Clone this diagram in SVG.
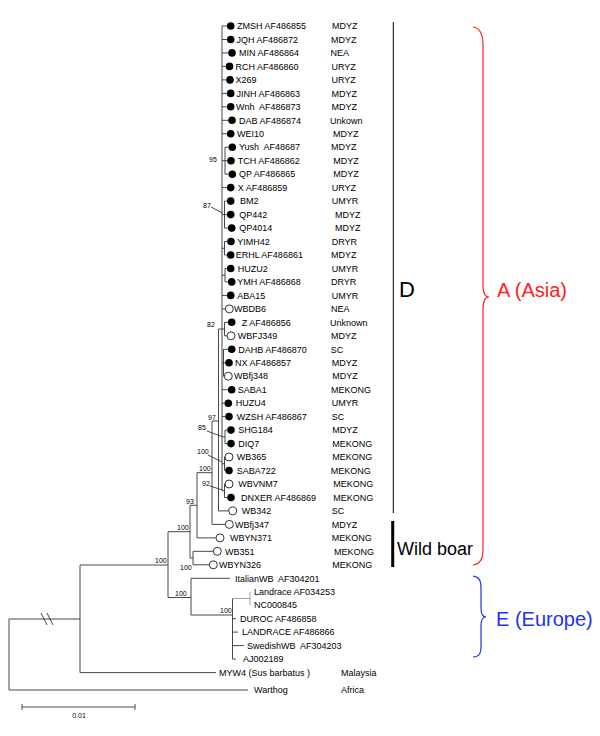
<svg xmlns="http://www.w3.org/2000/svg" width="600" height="736" viewBox="0 0 600 736">
<style>
.t{font-family:"Liberation Sans",Arial,sans-serif;font-size:9px;fill:#000}
.s{font-family:"Liberation Sans",Arial,sans-serif;font-size:7px;fill:#000}
.f{fill:#000}
.o{fill:#fff;stroke:#000;stroke-width:0.8}
.ln{fill:none;stroke:#333;stroke-width:0.9}
.gr{fill:none;stroke:#999;stroke-width:0.9}
</style>
<rect width="600" height="736" fill="#fff"/>
<g id="connectors">
<path class="ln" d="M222,26V490.7
M222,26H226.9M222,39.5H226.9M222,52.9H228.2M222,66.4H225.7M222,79.9H226.2M222,93.4H226.9M222,106.8H226.9M222,120.3H228.2M222,133.8H226.9
M225,147.2V174.2M222,160.7H225M225,147.2H228.5M225,160.7H227.2M225,174.2H228.5
M222,187.6H226.9
M224.5,201.1V228.1M222,214.6H224.5M224.5,201.1H226.9M224.5,214.6H226.9M224.5,228.1H227.9
M224.5,241.5V255M222,248.3H224.5M224.5,241.5H227.2M224.5,255H226.9
M225,268.5V281.9M222,275.2H225M225,268.5H226.9M225,281.9H227.9
M222,295.4H226.9M222,308.9H225.3
M224.5,322.3V335.8M218.5,329H224.5M224.5,322.3H227.9M224.5,335.8H227
M223.5,349.3V376.2M222,362.8H223.5M223.5,349.3H227.9M223.5,362.8H225.2M223.5,376.2H224.3
M222,389.7H227.9M222,403.2H224.5M222,416.6H225.2
M225,430.1V443.6M222,436.9H225M225,430.1H227.2M225,443.6H227.2
M224.5,457V470.5M222,463.8H224.5M224.5,457H225M224.5,470.5H225.2
M224.5,484V497.5M222,490.7H224.5M224.5,484H225M224.5,497.5H227.2
M218.5,329V510.9M218.5,510.9H228.7M212,421H218.5
M212,421V524.4M212,524.4H225.3M197,472.7H212
M197,472.7V537.9M197,537.9H216M190,505.3H197
M193,551.3V564.8M193,551.3H213.3M193,564.8H209.3M190,558H193
M190,505.3V558M168,531.7H190
M168,531.7V597.5M168,597.5H191
M191,578.3V615M191,578.3H230M191,615H232.5
M232.5,598.5V659.1M232.5,618.7H236M232.5,632.1H238M232.5,645.6H244M232.5,659.1H236
M80,565H168M80,565V672.6M80,672.6H216
M9,619H80M9,619V690M9,690H248
M211,207L222.5,213M207,431L222,436.5M208,455L222,462M210,486L222.5,490"/>
<path class="gr" d="M232.5,598.5H250M250,591.7V605.2"/>
<path d="M41,613L47,625M47,613L53,625" stroke="#333" stroke-width="0.9" fill="none"/>
<path class="ln" d="M22,707H135M22,704V710M135,704V710"/>
</g>
<g id="leaves">
<g id="n0"><circle class="f" cx="230.7" cy="26" r="3.8"/><text class="t" x="237" y="29.2">ZMSH AF486855</text><text class="t" x="332" y="29.2">MDYZ</text></g>
<g id="n1"><circle class="f" cx="230.7" cy="39.5" r="3.8"/><text class="t" x="236.5" y="42.7">JQH AF486872</text><text class="t" x="331" y="42.7">MDYZ</text></g>
<g id="n2"><circle class="f" cx="232" cy="52.9" r="3.8"/><text class="t" x="239" y="56.1">MIN AF486864</text><text class="t" x="330.5" y="56.1">NEA</text></g>
<g id="n3"><circle class="f" cx="229.5" cy="66.4" r="3.8"/><text class="t" x="235.5" y="69.6">RCH AF486860</text><text class="t" x="331.5" y="69.6">URYZ</text></g>
<g id="n4"><circle class="f" cx="230" cy="79.9" r="3.8"/><text class="t" x="235.5" y="83.1">X269</text><text class="t" x="331.5" y="83.1">URYZ</text></g>
<g id="n5"><circle class="f" cx="230.7" cy="93.4" r="3.8"/><text class="t" x="236.5" y="96.6">JINH AF486863</text><text class="t" x="331.5" y="96.6">MDYZ</text></g>
<g id="n6"><circle class="f" cx="230.7" cy="106.8" r="3.8"/><text class="t" x="236" y="110" xml:space="preserve">Wnh  AF486873</text><text class="t" x="331.5" y="110">MDYZ</text></g>
<g id="n7"><circle class="f" cx="232" cy="120.3" r="3.8"/><text class="t" x="239" y="123.5">DAB AF486874</text><text class="t" x="330" y="123.5">Unkown</text></g>
<g id="n8"><circle class="f" cx="230.7" cy="133.8" r="3.8"/><text class="t" x="237" y="137">WEI10</text><text class="t" x="333" y="137">MDYZ</text></g>
<g id="n9"><circle class="f" cx="232.3" cy="147.2" r="3.8"/><text class="t" x="239" y="150.4" xml:space="preserve">Yush  AF48687</text><text class="t" x="331" y="150.4">MDYZ</text></g>
<g id="n10"><circle class="f" cx="231" cy="160.7" r="3.8"/><text class="t" x="237.7" y="163.9">TCH AF486862</text><text class="t" x="333.3" y="163.9">MDYZ</text></g>
<g id="n11"><circle class="f" cx="232.3" cy="174.2" r="3.8"/><text class="t" x="239" y="177.4">QP AF486865</text><text class="t" x="333.3" y="177.4">MDYZ</text></g>
<g id="n12"><circle class="f" cx="230.7" cy="187.6" r="3.8"/><text class="t" x="237.7" y="190.8">X AF486859</text><text class="t" x="331.7" y="190.8">URYZ</text></g>
<g id="n13"><circle class="f" cx="230.7" cy="201.1" r="3.8"/><text class="t" x="240" y="204.3">BM2</text><text class="t" x="331.7" y="204.3">UMYR</text></g>
<g id="n14"><circle class="f" cx="230.7" cy="214.6" r="3.8"/><text class="t" x="239.3" y="217.8">QP442</text><text class="t" x="335" y="217.8">MDYZ</text></g>
<g id="n15"><circle class="f" cx="231.7" cy="228.1" r="3.8"/><text class="t" x="239.3" y="231.3">QP4014</text><text class="t" x="335" y="231.3">MDYZ</text></g>
<g id="n16"><circle class="f" cx="231" cy="241.5" r="3.8"/><text class="t" x="237.3" y="244.7">YIMH42</text><text class="t" x="331.7" y="244.7">DRYR</text></g>
<g id="n17"><circle class="f" cx="230.7" cy="255" r="3.8"/><text class="t" x="235.7" y="258.2">ERHL AF486861</text><text class="t" x="331" y="258.2">MDYZ</text></g>
<g id="n18"><circle class="f" cx="230.7" cy="268.5" r="3.8"/><text class="t" x="237.7" y="271.7">HUZU2</text><text class="t" x="331.7" y="271.7">UMYR</text></g>
<g id="n19"><circle class="f" cx="231.7" cy="281.9" r="3.8"/><text class="t" x="237.3" y="285.1">YMH AF486868</text><text class="t" x="331" y="285.1">DRYR</text></g>
<g id="n20"><circle class="f" cx="230.7" cy="295.4" r="3.8"/><text class="t" x="237.3" y="298.6">ABA15</text><text class="t" x="331.7" y="298.6">UMYR</text></g>
<g id="n21"><circle class="o" cx="229.3" cy="308.9" r="4"/><text class="t" x="234" y="312.1">WBDB6</text><text class="t" x="331" y="312.1">NEA</text></g>
<g id="n22"><circle class="f" cx="231.7" cy="322.3" r="3.8"/><text class="t" x="241.7" y="325.5">Z AF486856</text><text class="t" x="330" y="325.5">Unknown</text></g>
<g id="n23"><circle class="o" cx="231" cy="335.8" r="4"/><text class="t" x="237.7" y="339">WBFJ349</text><text class="t" x="331" y="339">MDYZ</text></g>
<g id="n24"><circle class="f" cx="231.7" cy="349.3" r="3.8"/><text class="t" x="238.3" y="352.5">DAHB AF486870</text><text class="t" x="330.7" y="352.5">SC</text></g>
<g id="n25"><circle class="f" cx="229" cy="362.8" r="3.8"/><text class="t" x="235" y="366">NX AF486857</text><text class="t" x="331.7" y="366">MDYZ</text></g>
<g id="n26"><circle class="o" cx="228.3" cy="376.2" r="4"/><text class="t" x="234" y="379.4">WBfj348</text><text class="t" x="332.3" y="379.4">MDYZ</text></g>
<g id="n27"><circle class="f" cx="231.7" cy="389.7" r="3.8"/><text class="t" x="237.7" y="392.9">SABA1</text><text class="t" x="331" y="392.9">MEKONG</text></g>
<g id="n28"><circle class="f" cx="228.3" cy="403.2" r="3.8"/><text class="t" x="235.7" y="406.4">HUZU4</text><text class="t" x="331.7" y="406.4">UMYR</text></g>
<g id="n29"><circle class="f" cx="229" cy="416.6" r="3.8"/><text class="t" x="236.7" y="419.8">WZSH AF486867</text><text class="t" x="331.7" y="419.8">SC</text></g>
<g id="n30"><circle class="f" cx="231" cy="430.1" r="3.8"/><text class="t" x="238.3" y="433.3">SHG184</text><text class="t" x="332.3" y="433.3">MDYZ</text></g>
<g id="n31"><circle class="f" cx="231" cy="443.6" r="3.8"/><text class="t" x="238.3" y="446.8">DIQ7</text><text class="t" x="332.3" y="446.8">MEKONG</text></g>
<g id="n32"><circle class="o" cx="229" cy="457" r="4"/><text class="t" x="236.7" y="460.2">WB365</text><text class="t" x="332.3" y="460.2">MEKONG</text></g>
<g id="n33"><circle class="f" cx="229" cy="470.5" r="3.8"/><text class="t" x="236.7" y="473.7">SABA722</text><text class="t" x="330.7" y="473.7">MEKONG</text></g>
<g id="n34"><circle class="o" cx="229" cy="484" r="4"/><text class="t" x="238.3" y="487.2">WBVNM7</text><text class="t" x="333.3" y="487.2">MEKONG</text></g>
<g id="n35"><circle class="f" cx="231" cy="497.5" r="3.8"/><text class="t" x="241" y="500.7">DNXER AF486869</text><text class="t" x="333.3" y="500.7">MEKONG</text></g>
<g id="n36"><circle class="o" cx="232.7" cy="510.9" r="4"/><text class="t" x="241.7" y="514.1">WB342</text><text class="t" x="331.7" y="514.1">SC</text></g>
<g id="n37"><circle class="o" cx="229.3" cy="524.4" r="4"/><text class="t" x="235" y="527.6">WBfj347</text><text class="t" x="331.7" y="527.6">MDYZ</text></g>
<g id="n38"><circle class="o" cx="220" cy="537.9" r="4"/><text class="t" x="230" y="541.1">WBYN371</text><text class="t" x="331.7" y="541.1">MEKONG</text></g>
<g id="n39"><circle class="o" cx="217.3" cy="551.3" r="4"/><text class="t" x="225" y="554.5">WB351</text><text class="t" x="334" y="554.5">MEKONG</text></g>
<g id="n40"><circle class="o" cx="213.3" cy="564.8" r="4"/><text class="t" x="219" y="568">WBYN326</text><text class="t" x="332.3" y="568">MEKONG</text></g>
<g id="n41"><text class="t" x="235" y="581.5" xml:space="preserve">ItalianWB  AF304201</text></g>
<g id="n42"><text class="t" x="254" y="594.9">Landrace AF034253</text></g>
<g id="n43"><text class="t" x="254" y="608.4">NC000845</text></g>
<g id="n44"><text class="t" x="240" y="621.9">DUROC AF486858</text></g>
<g id="n45"><text class="t" x="242" y="635.3">LANDRACE AF486866</text></g>
<g id="n46"><text class="t" x="247" y="648.8" xml:space="preserve">SwedishWB  AF304203</text></g>
<g id="n47"><text class="t" x="243" y="662.3">AJ002189</text></g>
<g id="n48"><text class="t" x="219" y="675.8">MYW4 (Sus barbatus )</text><text class="t" x="341" y="675.8">Malaysia</text></g>
<g id="n49"><text class="t" x="254" y="693.2">Warthog</text><text class="t" x="341" y="693.2">Africa</text></g>
</g>
<g id="support">
<text class="s" x="209" y="162">95</text>
<text class="s" x="203" y="208">87</text>
<text class="s" x="207" y="327">82</text>
<text class="s" x="208" y="419.5">97</text>
<text class="s" x="198" y="430">85</text>
<text class="s" x="197" y="454">100</text>
<text class="s" x="199" y="471">100</text>
<text class="s" x="202" y="486">92</text>
<text class="s" x="186" y="504">93</text>
<text class="s" x="177" y="530">100</text>
<text class="s" x="180" y="569.5">100</text>
<text class="s" x="155" y="563">100</text>
<text class="s" x="175" y="596">100</text>
<text class="s" x="220" y="613">100</text>
<text class="s" x="79" y="718" text-anchor="middle" font-size="6">0.01</text>
</g>
<g id="cladeD"><path d="M393.3,22V513" stroke="#000" stroke-width="1" fill="none"/><text x="399" y="297" font-family="'Liberation Sans',Arial,sans-serif" font-size="22">D</text></g>
<g id="wildboar"><path d="M392.7,521V567" stroke="#000" stroke-width="3" fill="none"/><text x="397" y="555" font-family="'Liberation Sans',Arial,sans-serif" font-size="18">Wild boar</text></g>
<g id="asia"><path d="M473,27C481,28 483,35 483,45L483,285C483,293 485,297 489,297C485,297 483,301 483,309L483,548C483,558 481,564 473,565" stroke="#f22" stroke-width="1.2" fill="none"/><text x="497" y="297" font-family="'Liberation Sans',Arial,sans-serif" font-size="20" fill="#f22">A (Asia)</text></g>
<g id="europe"><path d="M473,576C479,577 481,580 481,588L481,608C481,614 483,617 486,617C483,617 481,620 481,626L481,646C481,654 479,657 473,657" stroke="#23e" stroke-width="1.2" fill="none"/><text x="496" y="626" font-family="'Liberation Sans',Arial,sans-serif" font-size="20" fill="#23e">E (Europe)</text></g>
</svg>
